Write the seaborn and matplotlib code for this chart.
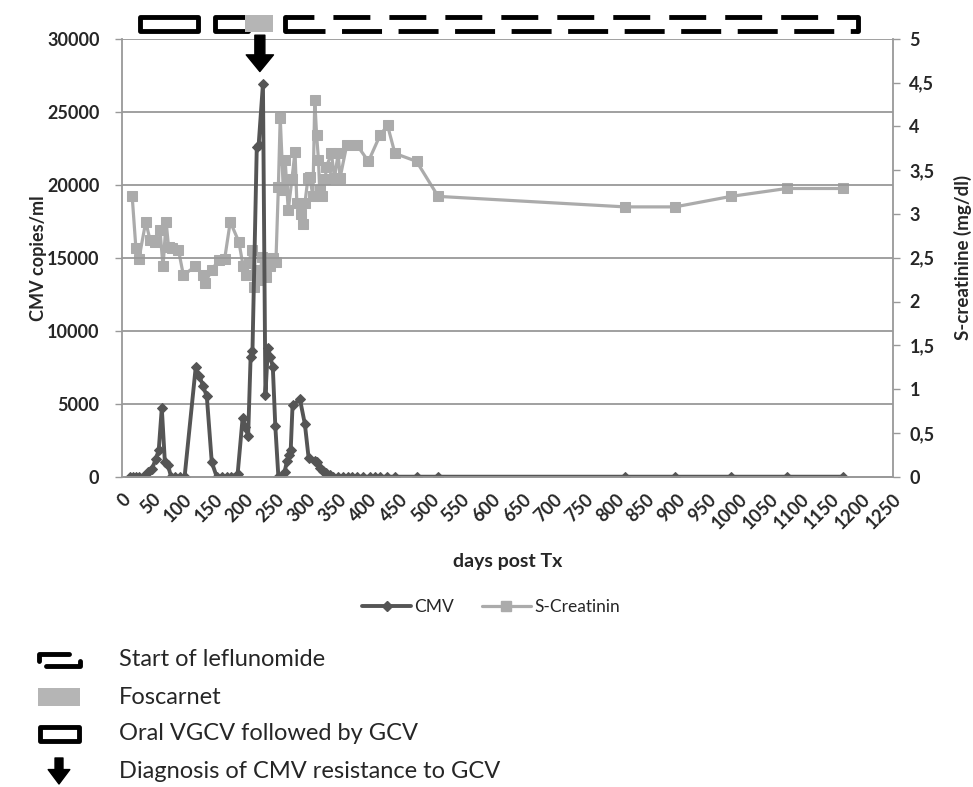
import numpy as np
import pandas as pd
import matplotlib.pyplot as plt
import seaborn as sns
from matplotlib.patches import Rectangle
from matplotlib.transforms import blended_transform_factory

# --- data ---
cmv_days = [13, 18, 23, 28, 35, 42, 49, 55, 60, 65, 70, 75, 80, 86, 94, 102,
            120, 126, 132, 138, 146, 154, 162, 170, 178, 188, 196, 200, 205,
            209, 212, 219, 222, 229, 233, 237, 241, 245, 249, 254, 259, 264,
            268, 271, 274, 277, 289, 297, 303, 313, 317, 321, 327, 332, 338,
            343, 351, 359, 367, 374, 381, 392, 403, 411, 419, 430, 443, 478,
            513, 816, 897, 988, 1078, 1170]
cmv_copies = [0, 0, 0, 0, 0, 300, 500, 1200, 1800, 4700, 1000, 800, 0, 0, 0, 0,
              7500, 6900, 6200, 5500, 1000, 0, 0, 0, 0, 200, 4000, 3400, 2800,
              8200, 8600, 22600, 22700, 26900, 5600, 8800, 8200, 7500, 3500, 0, 0, 300,
              1100, 1500, 1800, 4900, 5300, 3600, 1300, 1100, 1000, 600, 400, 250, 100,
              0, 0, 0, 0, 0, 0, 0, 0, 0, 0, 0, 0, 0,
              0, 0, 0, 0, 0, 0]

creat_days = [17, 23, 28, 39, 46, 54, 62, 67, 72, 76, 81, 92, 100, 119, 132,
              135, 146, 157, 167, 176, 190, 197, 201, 206, 211, 214, 219, 223,
              228, 234, 240, 246, 250, 254, 257, 262, 265, 270, 276, 281, 284,
              290, 294, 297, 302, 305, 310, 313, 316, 319, 321, 324, 330, 332,
              340, 345, 351, 354, 365, 381, 400, 419, 431, 443, 478, 513, 816,
              897, 988, 1078, 1170]
creat_mg_dl = [3.20, 2.61, 2.49, 2.91, 2.70, 2.68, 2.82, 2.40, 2.91, 2.62, 2.61, 2.59, 2.30, 2.40, 2.30,
               2.21, 2.36, 2.47, 2.49, 2.91, 2.68, 2.40, 2.30, 2.44, 2.59, 2.17, 2.36, 2.25,
               2.51, 2.28, 2.40, 2.50, 2.45, 3.31, 4.10, 3.27, 3.62, 3.04, 3.40, 3.71, 3.12,
               3.00, 2.89, 3.12, 3.41, 3.42, 3.20, 4.30, 3.90, 3.62, 3.27, 3.20, 3.40, 3.54,
               3.69, 3.41, 3.69, 3.41, 3.79, 3.79, 3.60, 3.90, 4.01, 3.69, 3.60, 3.20, 3.08,
               3.08, 3.20, 3.29, 3.29]

x_ticks = list(range(0, 1251, 50))
cmv_ticks = [0, 5000, 10000, 15000, 20000, 25000, 30000]
creat_ticks = [0, 0.5, 1, 1.5, 2, 2.5, 3, 3.5, 4, 4.5, 5]

# treatment periods (days post Tx)
vgcv_periods = [(30, 124), (151, 205)]
foscarnet_period = (200, 246)
leflunomide_period = (265, 1194)
resistance_day = 224

legend_labels = ["Start of leflunomide", "Foscarnet", "Oral VGCV followed by GCV",
                 "Diagnosis of CMV resistance to GCV"]

CMV_COL = '#555555'
CREAT_COL = '#ababab'
GRID_COL = '#999999'

sns.set_style("white")
plt.rcParams['font.family'] = ['Lato', 'DejaVu Sans']
plt.rcParams['lines.scale_dashes'] = False

W, H = 973, 787
fig = plt.figure(figsize=(W / 100, H / 100), dpi=100)
ax = fig.add_axes([121.7 / W, 1 - 476.7 / H, 771 / W, 438 / H])
ax2 = ax.twinx()

df_cmv = pd.DataFrame({'day': cmv_days, 'cmv': cmv_copies})
df_creat = pd.DataFrame({'day': creat_days, 'creat': creat_mg_dl})

sns.lineplot(data=df_creat, x='day', y='creat', ax=ax2, estimator=None,
             color=CREAT_COL, lw=2.3, marker='s', markersize=7.5,
             markeredgecolor=CREAT_COL, markerfacecolor=CREAT_COL)
sns.lineplot(data=df_cmv, x='day', y='cmv', ax=ax, estimator=None,
             color=CMV_COL, lw=2.8, marker='D', markersize=5.5,
             markeredgecolor=CMV_COL, markerfacecolor=CMV_COL)

# CMV drawn above creatinine
ax.set_zorder(ax2.get_zorder() + 1)
ax.patch.set_visible(False)

ax.set_xlim(0, 1250)
ax.set_ylim(0, 30000)
ax2.set_ylim(0, 5)
ax.set_xticks(x_ticks)
ax.set_yticks(cmv_ticks)
ax2.set_yticks(creat_ticks)
ax2.set_yticklabels([f"{t:g}".replace('.', ',') for t in creat_ticks])
ax.set_xticklabels([str(t) for t in x_ticks], rotation=45, ha='right',
                   rotation_mode='anchor')

ax.yaxis.grid(True, color=GRID_COL, lw=1.3)
ax.xaxis.grid(False)
for a in (ax, ax2):
    a.spines['top'].set_visible(False)
    for s in ('left', 'right', 'bottom'):
        a.spines[s].set_color(GRID_COL)
        a.spines[s].set_linewidth(1.3)
ax.spines['right'].set_visible(False)
ax2.spines['left'].set_visible(False)

ax.tick_params(axis='x', direction='out', length=5, width=1, color=GRID_COL,
               labelsize=13, pad=5)
ax.tick_params(axis='y', direction='out', length=5, width=1, color=GRID_COL,
               labelsize=13, pad=11)
ax2.tick_params(axis='y', direction='out', length=5, width=1, color=GRID_COL,
                labelsize=13, pad=7)
for lbl in ax.get_xticklabels() + ax.get_yticklabels() + ax2.get_yticklabels():
    lbl.set_fontweight('bold')

ax.set_xlabel('days post Tx', fontsize=14, fontweight='bold')
ax.set_ylabel('CMV copies/ml', fontsize=13, fontweight='bold')
ax2.set_ylabel('S-creatinine (mg/dl)', fontsize=13.5, fontweight='bold')
ax.xaxis.set_label_coords(0.5, -0.175)
ax.yaxis.set_label_coords(-0.097, 0.5)
ax2.yaxis.set_label_coords(1.08, 0.5)

# --- treatment bars above the plot ---
blend = blended_transform_factory(ax.transData, ax.transAxes)
top_y = 1 + (38.7 - 17) / 438
bot_y = 1 + (38.7 - 30.5) / 438
for start, end in vgcv_periods:
    ax.add_patch(Rectangle((start, bot_y), end - start, top_y - bot_y,
                           transform=blend, fill=False, ec='black', lw=3.5,
                           joinstyle='round', clip_on=False, zorder=5))
ax.add_patch(Rectangle((foscarnet_period[0], 1 + (38.7 - 32) / 438),
                       foscarnet_period[1] - foscarnet_period[0], 17 / 438,
                       transform=blend, fc='#b5b5b5', ec='none', clip_on=False,
                       zorder=6))

l0, l1 = leflunomide_period
ax.plot([l0, l1], [top_y, top_y], transform=blend, color='black', lw=3.5,
        linestyle=(5.8, (26.6, 13.7)), clip_on=False, scalex=False, scaley=False)
ax.plot([l0, l1], [bot_y, bot_y], transform=blend, color='black', lw=3.5,
        linestyle=(0, (28.8, 11.9)), clip_on=False, scalex=False, scaley=False)
ax.plot([l0, l0], [bot_y, top_y], transform=blend, color='black', lw=3.5,
        clip_on=False, scalex=False, scaley=False)
ax.plot([l1, l1], [bot_y, top_y], transform=blend, color='black', lw=3.5,
        clip_on=False, scalex=False, scaley=False)

ax.annotate('', xy=(resistance_day, 0.925), xycoords=blend,
            xytext=(resistance_day, 1.008), textcoords=blend,
            arrowprops=dict(arrowstyle='simple,head_length=0.3,head_width=0.49,tail_width=0.18',
                            mutation_scale=40, fc='black', ec='black',
                            shrinkA=0, shrinkB=0),
            annotation_clip=False)

ax.set_xlim(0, 1250)

# --- series legend ---
handles = [
    plt.Line2D([], [], color=CMV_COL, lw=2.8, marker='D', markersize=5.5),
    plt.Line2D([], [], color=CREAT_COL, lw=2.3, marker='s', markersize=7),
]
fig.legend(handles, ['CMV', 'S-Creatinin'], loc='center',
           bbox_to_anchor=(491 / W, 1 - 607 / H), ncol=2, frameon=False,
           fontsize=12.5, handlelength=2.8, columnspacing=1.6, handletextpad=0.2)


# --- symbol key below ---
def fx(px):
    return px / W


def fy(py):
    return 1 - py / H


key_y = [660, 697, 734, 771]
for label, yy in zip(legend_labels, key_y):
    fig.text(fx(119), fy(yy), label, fontsize=17, va='center', ha='left')

y0 = key_y[0]
fig.add_artist(plt.Line2D([fx(39), fx(39), fx(69)], [fy(y0 + 1), fy(y0 - 6), fy(y0 - 6)],
                          color='black', lw=3.5, transform=fig.transFigure))
fig.add_artist(plt.Line2D([fx(46), fx(80), fx(80)], [fy(y0 + 6), fy(y0 + 6), fy(y0 + 1)],
                          color='black', lw=3.5, transform=fig.transFigure))
y1 = key_y[1]
fig.add_artist(Rectangle((fx(38), fy(y1 + 9)), fx(42), 18 / H, fc='#b5b5b5',
                         ec='none', transform=fig.transFigure))
y2 = key_y[2]
fig.add_artist(Rectangle((fx(40), fy(y2 + 7)), fx(39), 14 / H, fill=False,
                         ec='black', lw=3.5, joinstyle='round', transform=fig.transFigure))
y3 = key_y[3]
arrow_ax = fig.add_axes([0, 0, 1, 1], facecolor='none')
arrow_ax.set_axis_off()
arrow_ax.set_xlim(0, W)
arrow_ax.set_ylim(H, 0)
arrow_ax.annotate('', xy=(59, y3 + 13), xytext=(59, y3 - 13),
                  arrowprops=dict(arrowstyle='simple,head_length=0.4,head_width=0.6,tail_width=0.22',
                                  mutation_scale=26, fc='black', ec='black',
                                  shrinkA=0, shrinkB=0))

fig.savefig('out.png', dpi=100)
